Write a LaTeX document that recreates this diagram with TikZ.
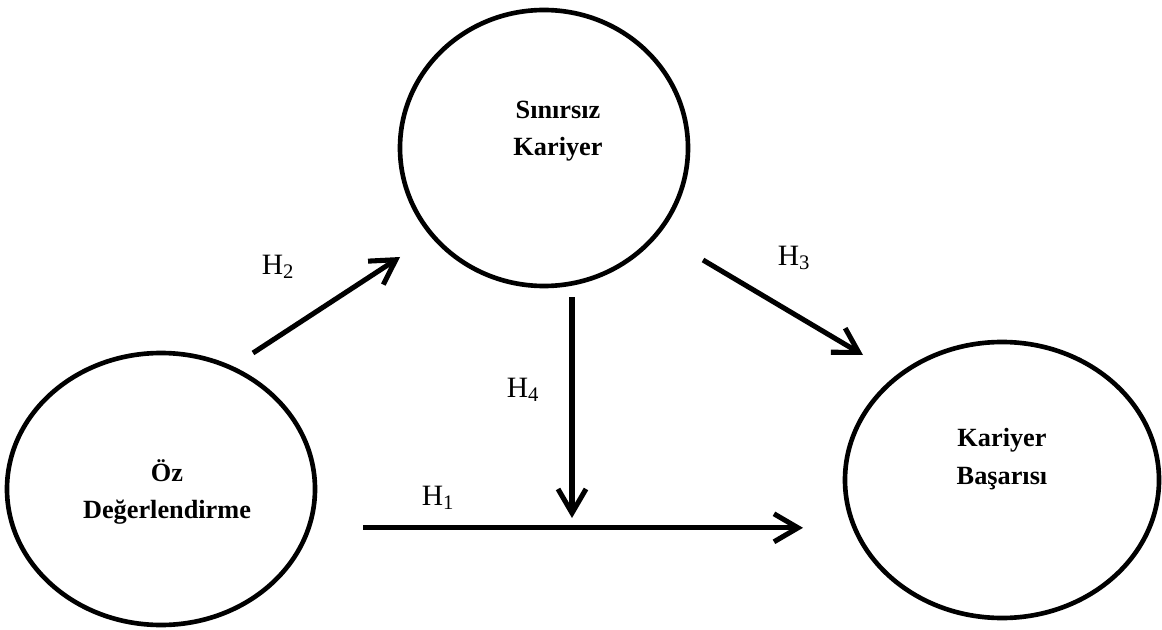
\documentclass[tikz,border=0pt]{standalone}
\usepackage{fontspec}
\setmainfont{Liberation Serif}
\usetikzlibrary{arrows.meta,shapes.geometric}
\tikzset{
  construct/.style={draw=black, line width=3.3pt, ellipse},
  cname/.style={align=center, font=\fontsize{18.7}{26.5}\selectfont\bfseries},
  hyp/.style={font=\fontsize{21}{24}\selectfont},
  arr/.style={line width=3.6pt, -{Straight Barb[length=6mm, width=7mm]}}
}
\begin{document}
\begin{tikzpicture}
            \useasboundingbox (0,0) rectangle (29.05,15.725);
            % constructs
            \node[construct, minimum width=7.2cm, minimum height=6.9cm] (sk) at (13.6,12.025) {};
            \node[construct, minimum width=7.7cm, minimum height=6.8cm] (oz) at (4.025,3.5) {};
            \node[construct, minimum width=7.85cm, minimum height=6.9cm] (kb) at (25.05,3.725) {};
            \node[cname] (sktext) at (13.95,12.45) {Sınırsız\\Kariyer};
            \node[cname] (oztext) at (4.175,3.425) {Öz\\Değerlendirme};
            \node[cname] (kbtext) at (25.05,4.25) {Kariyer\\Başarısı};
            % arrow ends
            \coordinate (h2a) at (6.325,6.9);
            \coordinate (h2b) at (10.0,9.3);
            \coordinate (h3a) at (17.575,9.225);
            \coordinate (h3b) at (21.575,6.85);
            \coordinate (h4a) at (14.3,8.3);
            \coordinate (h4b) at (14.3,2.775);
            \coordinate (h1a) at (9.075,2.53);
            \coordinate (h1b) at (20.075,2.53);
            \draw[arr] (h2a) -- (h2b);
            \draw[arr] (h3a) -- (h3b);
            \draw[arr] (h4a) -- (h4b);
            \draw[arr] (h1a) -- (h1b);
            % hypotheses
            \node[hyp] (h2) at (6.95,9.05) {H\textsubscript{2}};
            \node[hyp] (h3) at (19.85,9.275) {H\textsubscript{3}};
            \node[hyp] (h4) at (13.075,5.975) {H\textsubscript{4}};
            \node[hyp] (h1) at (10.95,3.275) {H\textsubscript{1}};
          \end{tikzpicture}
\end{document}
